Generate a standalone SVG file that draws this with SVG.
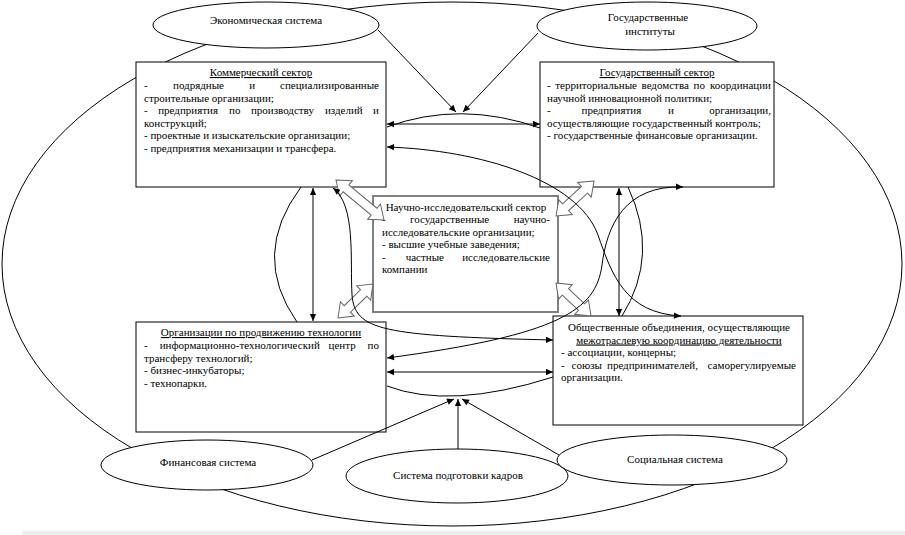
<svg xmlns="http://www.w3.org/2000/svg" width="905" height="535" viewBox="0 0 905 535">
<defs>
<marker id="ah" viewBox="0 0 10 10" refX="10" refY="5" markerWidth="8" markerHeight="7" markerUnits="userSpaceOnUse" orient="auto-start-reverse"><path d="M0,0.5 L10,5 L0,9.5 z" fill="#000"/></marker>
</defs>
<style>
text{font-family:"Liberation Serif","Times New Roman",serif;font-size:11px;fill:#000}
.c{text-anchor:middle}
.e{text-anchor:end}
.u{text-decoration:underline}
.box{fill:#fff;stroke:#000;stroke-width:1}
.ell{fill:#fff;stroke:#000;stroke-width:1}
.ln{fill:none;stroke:#000;stroke-width:1}
.blk{fill:#fff;stroke:#666;stroke-width:1}
</style>
<rect width="905" height="535" fill="#fff"/>
<rect x="22" y="531" width="883" height="4" fill="#efefef"/>
<ellipse id="outer" cx="452" cy="264" rx="450" ry="262" fill="none" stroke="#000" stroke-width="1"/>

<g id="econ"><ellipse class="ell" cx="266" cy="25" rx="113" ry="23"/><text class="c" x="266" y="24">Экономическая система</text></g>
<g id="govinst"><ellipse class="ell" cx="647" cy="26" rx="110" ry="24"/><text class="c" x="648" y="21">Государственные</text><text class="c" x="650" y="35">институты</text></g>
<g id="fin"><ellipse class="ell" cx="207" cy="465" rx="106" ry="25"/><text class="c" x="208" y="466">Финансовая система</text></g>
<g id="kadry"><ellipse class="ell" cx="457" cy="476" rx="111" ry="27"/><text class="c" x="458" y="479">Система подготовки кадров</text></g>
<g id="soc"><ellipse class="ell" cx="672" cy="460" rx="115" ry="25"/><text class="c" x="675" y="463">Социальная система</text></g>

<g id="commercial">
<rect class="box" x="136" y="62" width="250" height="125"/>
<text class="c u" x="261" y="76">Коммерческий сектор</text>
<text x="144" y="89">-</text><text x="173" y="89">подрядные</text><text x="249.3" y="89">и</text><text class="e" x="379" y="89">специализированные</text>
<text x="144" y="101.5">строительные организации;</text>
<text x="144" y="114">-</text><text x="158.2" y="114">предприятия</text><text x="229" y="114">по</text><text x="250.9" y="114">производству</text><text x="324.9" y="114">изделий</text><text class="e" x="379" y="114">и</text>
<text x="144" y="126.5">конструкций;</text>
<text x="144" y="139">- проектные и изыскательские организации;</text>
<text x="144" y="151.5">- предприятия механизации и трансфера.</text>
</g>

<g id="gov">
<rect class="box" x="540" y="62" width="234" height="125"/>
<text class="c u" x="657" y="76">Государственный сектор</text>
<text x="547" y="89">-</text><text x="555.2" y="89">территориальные</text><text x="641.5" y="89">ведомства</text><text x="693.6" y="89">по</text><text class="e" x="771" y="89">координации</text>
<text x="547" y="101.5">научной инновационной политики;</text>
<text x="547" y="114">-</text><text x="581.5" y="114">предприятия</text><text x="668" y="114">и</text><text class="e" x="771" y="114">организации,</text>
<text x="547" y="126.5">осуществляющие государственный контроль;</text>
<text x="547" y="139">- государственные финансовые организации.</text>
</g>

<g id="research">
<rect x="373" y="196" width="185" height="116" fill="#fff" stroke="#808080" stroke-width="2"/>
<text class="c" x="466" y="210.5">Научно-исследовательский сектор</text>
<text x="382" y="223">-</text><text x="409.9" y="223">государственные</text><text class="e" x="550" y="223">научно-</text>
<text x="382" y="235.5">исследовательские организации;</text>
<text x="382" y="248">- высшие учебные заведения;</text>
<text x="382" y="260.5">-</text><text x="405.7" y="260.5">частные</text><text class="e" x="550" y="260.5">исследовательские</text>
<text x="382" y="273">компании</text>
</g>

<g id="orgs">
<rect class="box" x="136" y="322" width="250" height="110"/>
<text class="c u" x="261" y="336">Организации по продвижению технологии</text>
<text x="144" y="349">-</text><text x="159.7" y="349">информационно-технологический</text><text x="328.6" y="349">центр</text><text class="e" x="379" y="349">по</text>
<text x="144" y="361.5">трансферу технологий;</text>
<text x="144" y="374">- бизнес-инкубаторы;</text>
<text x="144" y="386.5">- технопарки.</text>
</g>

<g id="social">
<rect class="box" x="553" y="316" width="250" height="109"/>
<text class="c" x="679" y="331">Общественные объединения, осуществляющие</text>
<text class="c u" x="679" y="343.5">межотраслевую координацию деятельности</text>
<text x="561" y="356">- ассоциации, концерны;</text>
<text x="561" y="368.5">-</text><text x="571.6" y="368.5">союзы</text><text x="607" y="368.5">предпринимателей,</text><text class="e" x="796" y="368.5">саморегулируемые</text>
<text x="561" y="381">организации.</text>
</g>

<g id="blockarrows">
<polygon class="blk" transform="translate(336,180) rotate(39.8)" points="0,0 13,-10 13,-4.5 49.5,-4.5 49.5,-10 62.5,0 49.5,10 49.5,4.5 13,4.5 13,10"/>
<polygon class="blk" transform="translate(556,216) rotate(-42.6)" points="0,0 13,-10 13,-4.5 38.7,-4.5 38.7,-10 51.7,0 38.7,10 38.7,4.5 13,4.5 13,10"/>
<polygon class="blk" transform="translate(338,318) rotate(-44.2)" points="0,0 13,-10 13,-4.5 35.8,-4.5 35.8,-10 48.8,0 35.8,10 35.8,4.5 13,4.5 13,10"/>
<polygon class="blk" transform="translate(556,283) rotate(43.3)" points="0,0 13,-10 13,-4.5 35.1,-4.5 35.1,-10 48.1,0 35.1,10 35.1,4.5 13,4.5 13,10"/>
</g>

<g id="connectors">
<path class="ln" d="M387,124 L540,124" marker-start="url(#ah)" marker-end="url(#ah)"/>
<path class="ln" d="M387,127 Q460,100 540,128"/>
<path class="ln" d="M378,30 L456,112" marker-end="url(#ah)"/>
<path class="ln" d="M538,33 L463,112" marker-end="url(#ah)"/>
<path class="ln" d="M313,188 L313,321" marker-start="url(#ah)" marker-end="url(#ah)"/>
<path class="ln" d="M301,187 Q250,255 297,322"/>
<path class="ln" d="M619,188 L619,316" marker-start="url(#ah)" marker-end="url(#ah)"/>
<path class="ln" d="M628,187 Q660,255 622,316"/>
<path class="ln" d="M387,372 L553,372" marker-start="url(#ah)" marker-end="url(#ah)"/>
<path class="ln" d="M387,386 Q450,410 553,377"/>
<path class="ln" d="M312,460 L454,399" marker-end="url(#ah)"/>
<path class="ln" d="M458,449 L458,399" marker-end="url(#ah)"/>
<path class="ln" d="M559,455 L462,399" marker-end="url(#ah)"/>
<path class="ln" d="M333,188 C356,205 350,260 352,295 C355,330 380,336 553,340" marker-start="url(#ah)" marker-end="url(#ah)"/>
<path class="ln" d="M683,187 C625,185 607,225 602,265 C596,310 560,335 387,358" marker-start="url(#ah)" marker-end="url(#ah)"/>
<path class="ln" d="M387,147 C480,150 578,180 598,235 C612,275 625,313 681,316" marker-start="url(#ah)" marker-end="url(#ah)"/>
</g>
</svg>
